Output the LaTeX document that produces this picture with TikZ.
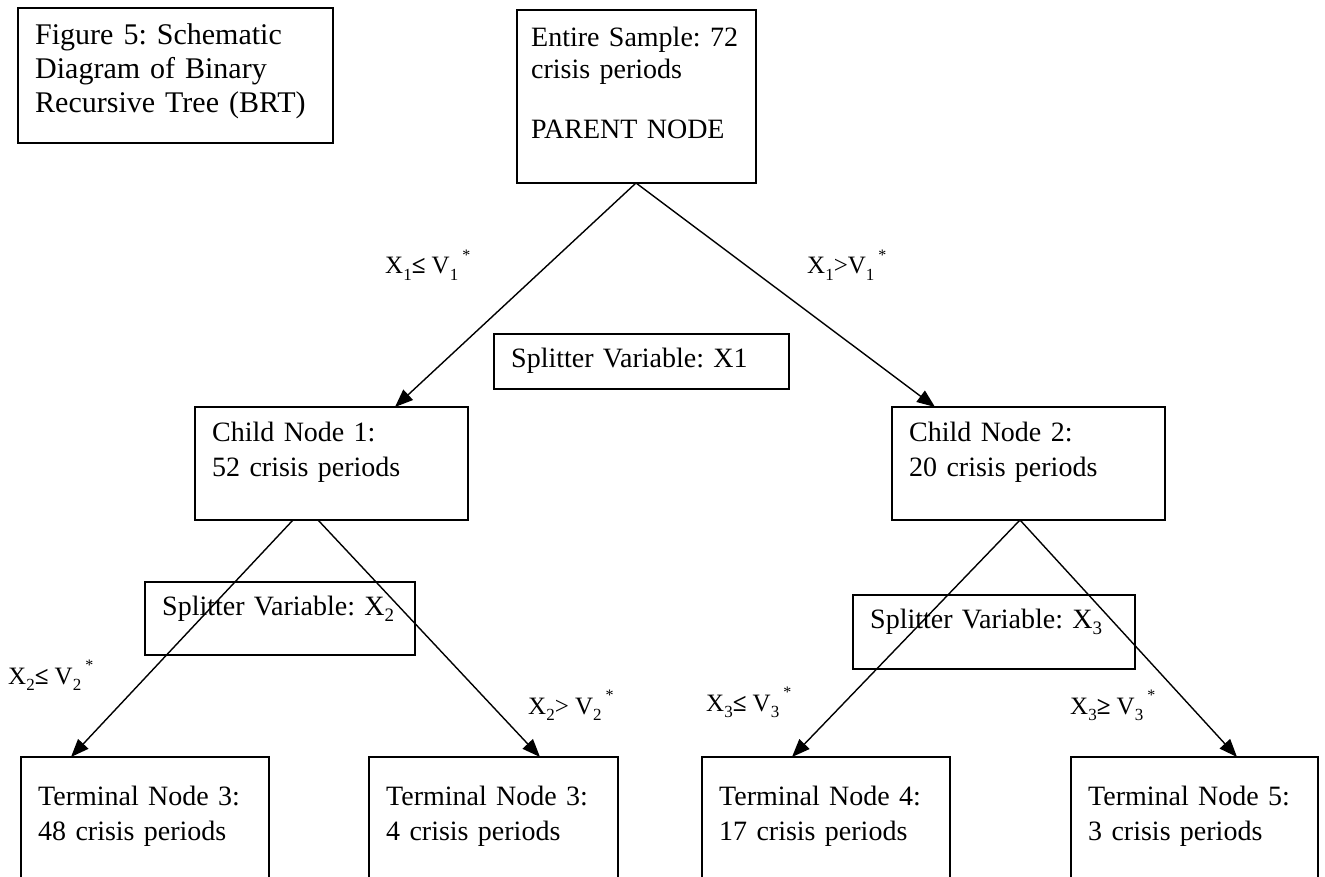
\documentclass[tikz,border=0pt]{standalone}
\usepackage{fontspec}
\setmainfont{Liberation Serif}
\usetikzlibrary{arrows.meta}
\frenchspacing
\newcommand\sbx[1]{\raisebox{-0.24em}{\fontsize{17}{17}\selectfont #1}}
\newcommand\sbb[1]{\raisebox{-0.22em}{\fontsize{19}{19}\selectfont #1}}
\newcommand\spx[1]{\raisebox{0.55em}{\fontsize{16}{16}\selectfont #1}}
\begin{document}
\begin{tikzpicture}[x=1pt,y=-1pt,
  box/.style={draw, line width=1.5pt, anchor=north west, inner sep=0pt, outer sep=0pt},
  txt/.style={anchor=base west, inner sep=0pt, align=left, text width=#1,
    font=\fontsize{28}{35}\selectfont},
  ttl/.style={anchor=base west, inner sep=0pt, align=left, text width=#1,
    font=\fontsize{30}{34}\selectfont},
  arr/.style={line width=1.4pt, -{Triangle[length=18pt,width=14pt]}},
  lbl/.style={anchor=base west, inner sep=0pt, font=\fontsize{25}{28}\selectfont}]
\clip (0,0) rectangle (1325,877);
\fill[white] (0,0) rectangle (1325,877);

% boxes
\node[box, minimum width=315, minimum height=135] (title) at (18,8) {};
\node[box, minimum width=239, minimum height=173] (p) at (517,10) {};
\node[box, minimum width=295, minimum height=55] (s1) at (494,334) {};
\node[box, minimum width=273, minimum height=113] (c1) at (195,407) {};
\node[box, minimum width=273, minimum height=113] (c2) at (892,407) {};
\node[box, minimum width=270, minimum height=73] (s2) at (145,582) {};
\node[box, minimum width=282, minimum height=74] (s3) at (853,595) {};
\node[box, minimum width=248, minimum height=160] (t1) at (21,757) {};
\node[box, minimum width=249, minimum height=160] (t2) at (369,757) {};
\node[box, minimum width=248, minimum height=160] (t3) at (702,757) {};
\node[box, minimum width=247, minimum height=160] (t4) at (1071,757) {};

% texts
\node[ttl=300] (titlet) at ([shift={(17,37)}]title.north west)
  {Figure 5: Schematic\\Diagram of Binary\\Recursive Tree (BRT)};
\node[txt=225] (pt) at ([shift={(14,37)}]p.north west)
  {Entire Sample: 72\\[-3pt]crisis periods\\[25pt]PARENT NODE};
\node[txt=270] (s1t) at ([shift={(17,33)}]s1.north west) {Splitter Variable: X1};
\node[txt=250] (c1t) at ([shift={(17,34)}]c1.north west) {Child Node 1:\\52 crisis periods};
\node[txt=250] (c2t) at ([shift={(17,34)}]c2.north west) {Child Node 2:\\20 crisis periods};
\node[txt=250] (s2t) at ([shift={(17,33)}]s2.north west) {Splitter Variable: X\sbb{2}};
\node[txt=260] (s3t) at ([shift={(17,33)}]s3.north west) {Splitter Variable: X\sbb{3}};
\node[txt=230] (t1t) at ([shift={(17,48)}]t1.north west) {Terminal Node 3:\\48 crisis periods};
\node[txt=230] (t2t) at ([shift={(17,48)}]t2.north west) {Terminal Node 3:\\4 crisis periods};
\node[txt=230] (t3t) at ([shift={(17,48)}]t3.north west) {Terminal Node 4:\\17 crisis periods};
\node[txt=230] (t4t) at ([shift={(17,48)}]t4.north west) {Terminal Node 5:\\3 crisis periods};

% connectors
\draw[arr] ([shift={(119,0)}]p.south west) -- ([shift={(200,0)}]c1.north west);
\draw[arr] ([shift={(119,0)}]p.south west) -- ([shift={(43,0)}]c2.north west);
\draw[arr] ([shift={(98,0)}]c1.south west) -- ([shift={(50,0)}]t1.north west);
\draw[arr] ([shift={(123,0)}]c1.south west) -- ([shift={(171,0)}]t2.north west);
\draw[arr] ([shift={(128,0)}]c2.south west) -- ([shift={(90,0)}]t3.north west);
\draw[arr] ([shift={(128,0)}]c2.south west) -- ([shift={(166,0)}]t4.north west);

% condition labels
\node[lbl] (l1) at (385,274) {X\sbx{1}{\bfseries ≤} V\sbx{1}\hspace{4pt}\spx{*}};
\node[lbl] (r1) at (807,274) {X\sbx{1}>V\sbx{1}\hspace{4pt}\spx{*}};
\node[lbl] (l2) at (8,684) {X\sbx{2}{\bfseries ≤} V\sbx{2}\hspace{4pt}\spx{*}};
\node[lbl] (r2) at (528,714) {X\sbx{2}> V\sbx{2}\hspace{4pt}\spx{*}};
\node[lbl] (l3) at (706,711) {X\sbx{3}{\bfseries ≤} V\sbx{3}\hspace{4pt}\spx{*}};
\node[lbl] (r3) at (1070,714) {X\sbx{3}{\bfseries ≥} V\sbx{3}\hspace{4pt}\spx{*}};
\end{tikzpicture}
\end{document}
